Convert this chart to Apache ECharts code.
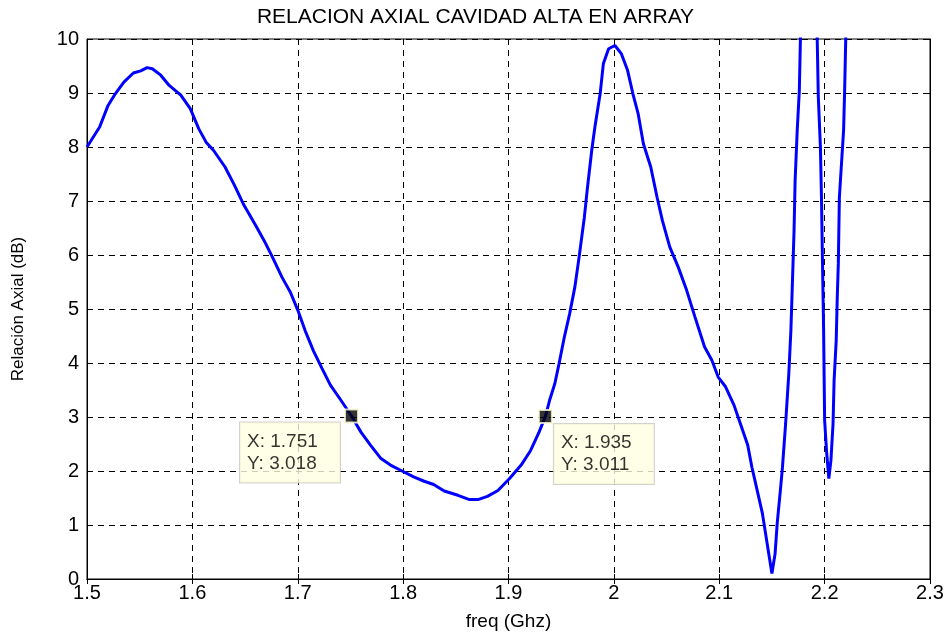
<!DOCTYPE html>
<html>
<head>
<meta charset="utf-8">
<script src="https://cdn.jsdelivr.net/npm/echarts@6/dist/echarts.min.js"></script>
<style>
  html, body { margin: 0; padding: 0; background: #fff; }
  #chart { width: 951px; height: 639px; }
</style>
</head>
<body>
<div id="chart"></div>
<script>
// frequency (GHz) and axial ratio (dB)
var freq = [1.500,1.512,1.520,1.527,1.535,1.544,1.551,1.557,1.562,1.570,
    1.578,1.589,1.598,1.606,1.613,1.620,1.631,1.640,1.649,1.660,
    1.668,1.676,1.685,1.693,1.700,1.707,1.715,1.723,1.731,1.741,
    1.751,1.760,1.769,1.779,1.788,1.799,1.810,1.820,1.829,1.839,
    1.852,1.863,1.871,1.880,1.890,1.901,1.912,1.921,1.929,1.935,
    1.939,1.944,1.948,1.953,1.958,1.963,1.967,1.972,1.975,1.979,
    1.982,1.987,1.990,1.995,2.001,2.007,2.013,2.018,2.023,2.028,
    2.035,2.041,2.046,2.053,2.061,2.069,2.077,2.086,2.093,2.099,
    2.106,2.114,2.120,2.127,2.131,2.136,2.141,2.146,2.150,2.153,
    2.155,2.158,2.160,2.163,2.166,2.168,2.169,2.171,2.172,2.174,
    2.176,2.177,2.179,2.185,2.191,2.193,2.194,2.196,2.197,2.198,
    2.199,2.200,2.202,2.204,2.206,2.208,2.209,2.211,2.212,2.213,
    2.214,2.218,2.219,2.220,2.222];
var ratio = [8.00,8.37,8.77,8.99,9.20,9.37,9.41,9.47,9.45,9.33,
    9.14,8.96,8.71,8.34,8.09,7.94,7.63,7.29,6.92,6.55,
    6.27,5.96,5.59,5.31,4.98,4.60,4.22,3.90,3.59,3.31,
    3.018,2.72,2.48,2.23,2.11,2.00,1.89,1.81,1.75,1.63,
    1.55,1.47,1.47,1.53,1.64,1.86,2.11,2.38,2.72,3.011,
    3.31,3.62,3.99,4.48,4.91,5.41,5.96,6.70,7.26,7.94,
    8.37,8.99,9.54,9.82,9.88,9.73,9.42,8.99,8.62,8.06,
    7.63,7.07,6.64,6.15,5.78,5.35,4.85,4.30,4.05,3.74,
    3.56,3.22,2.88,2.48,2.07,1.64,1.21,0.59,0.10,0.47,
    1.03,1.64,2.07,2.88,3.80,4.61,5.22,6.46,7.38,8.31,
    9.05,9.97,11.0,14.0,11.0,9.97,8.93,8.00,7.07,5.84,
    4.67,2.94,2.32,1.86,2.20,2.88,3.68,4.42,5.22,5.84,
    7.07,8.31,9.05,9.97,11.0];

// data tips
var tipX = [1.751, 1.935];
var tipY = [3.018, 3.011];

var xTicks = ['1.5','1.6','1.7','1.8','1.9','2','2.1','2.2','2.3'];
var yTicks = ['0','1','2','3','4','5','6','7','8','9','10'];

var font = 'Liberation Sans, Arial, sans-serif';
var gridLine = { show: true, lineStyle: { color: '#000', type: [6, 5], width: 1 } };

var lineData = freq.map(function (f, i) { return [f, ratio[i]]; });
var tipData = tipX.map(function (x, i) {
    return {
        value: [x, tipY[i]],
        label: { position: i === 0 ? [-104, 14] : [16, 15] }
    };
});

var chart = echarts.init(document.getElementById('chart'));
chart.setOption({
    animation: false,
    backgroundColor: '#fff',
    title: {
        text: 'RELACION AXIAL CAVIDAD ALTA EN ARRAY',
        left: 'center',
        top: 2,
        textStyle: { fontFamily: font, fontSize: 21, fontWeight: 'normal', color: '#000' }
    },
    grid: {
        left: 87, right: 21, top: 39, bottom: 60,
        show: true, borderColor: '#000', borderWidth: 1, backgroundColor: '#fff'
    },
    xAxis: [{
        type: 'value', min: 1.5, max: 2.3, interval: 0.1,
        name: 'freq (Ghz)', nameLocation: 'middle', nameGap: 33,
        nameTextStyle: { fontFamily: font, fontSize: 19, color: '#000' },
        axisLine: { show: true, lineStyle: { color: '#000' } },
        axisTick: { show: true, inside: true, length: 5, lineStyle: { color: '#000' } },
        axisLabel: {
            fontFamily: font, fontSize: 20, color: '#000', margin: 4,
            formatter: function (v) { return xTicks[Math.round((v - 1.5) * 10)]; }
        },
        splitLine: gridLine
    }, {
        type: 'value', min: 1.5, max: 2.3, interval: 0.1, position: 'top',
        axisLine: { show: true, lineStyle: { color: '#000' } },
        axisTick: { show: true, inside: true, length: 5, lineStyle: { color: '#000' } },
        axisLabel: { show: false },
        splitLine: { show: false }
    }],
    yAxis: [{
        type: 'value', min: 0, max: 10, interval: 1,
        name: 'Relación Axial (dB)', nameLocation: 'middle', nameGap: 60,
        nameTextStyle: { fontFamily: font, fontSize: 17, color: '#000' },
        axisLine: { show: true, lineStyle: { color: '#000' } },
        axisTick: { show: true, inside: true, length: 5, lineStyle: { color: '#000' } },
        axisLabel: {
            fontFamily: font, fontSize: 20, color: '#000', margin: 8,
            formatter: function (v) { return yTicks[Math.round(v)]; }
        },
        splitLine: gridLine
    }, {
        type: 'value', min: 0, max: 10, interval: 1, position: 'right',
        axisLine: { show: true, lineStyle: { color: '#000' } },
        axisTick: { show: true, inside: true, length: 5, lineStyle: { color: '#000' } },
        axisLabel: { show: false },
        splitLine: { show: false }
    }],
    series: [{
        type: 'line',
        data: lineData,
        showSymbol: false,
        clip: true,
        lineStyle: { color: '#0000ff', width: 3 },
        z: 3
    }, {
        type: 'scatter',
        data: tipData,
        symbol: 'rect',
        symbolSize: 13,
        itemStyle: { color: '#000', borderColor: '#ffffd8', borderWidth: 2 },
        label: {
            show: true,
            align: 'left',
            verticalAlign: 'top',
            fontFamily: font,
            fontSize: 19,
            color: '#000',
            lineHeight: 22,
            width: 86,
            padding: [8, 7, 8, 7],
            backgroundColor: '#ffffe1',
            borderColor: '#c8c8c0',
            borderWidth: 1,
            formatter: function (p) {
                return 'X: ' + p.value[0].toFixed(3) + '\nY: ' + p.value[1].toFixed(3);
            }
        },
        z: 5
    }]
});
</script>
</body>
</html>
